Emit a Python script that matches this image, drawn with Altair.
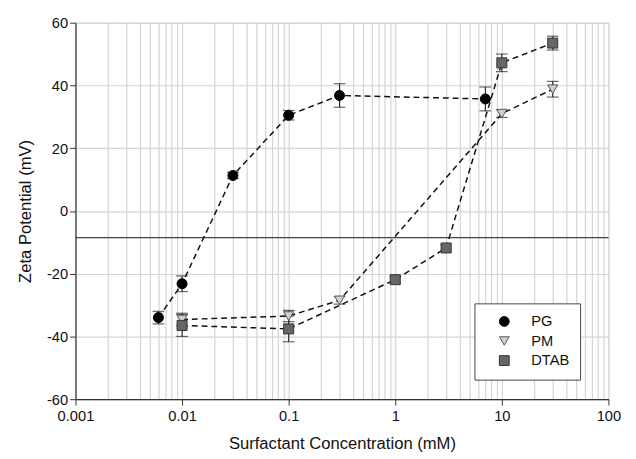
import altair as alt
import pandas as pd

series_names = ["PG", "PM", "DTAB"]

pg_x = [0.006, 0.01, 0.03, 0.1, 0.3, 7]
pg_y = [-34.0, -23.2, 11.3, 30.5, 36.8, 35.7]
pg_e = [2.0, 2.5, 1.0, 1.5, 3.75, 3.8]

pm_x = [0.01, 0.1, 0.3, 10, 30]
pm_y = [-34.6, -33.5, -28.5, 31.0, 38.8]
pm_e = [2.0, 1.8, 1.2, 1.2, 2.5]

dt_x = [0.01, 0.1, 1, 3, 10, 30]
dt_y = [-36.5, -37.6, -21.9, -11.8, 47.2, 53.5]
dt_e = [3.5, 4.1, 1.0, 1.0, 2.8, 2.2]

ref_line_y = -8.5

x_ticks = [m * 10.0 ** e for e in range(-3, 2) for m in range(1, 10)] + [100.0]
y_ticks = [-60, -40, -20, 0, 20, 40, 60]

rows = []
for name, xs, ys, es in [("PG", pg_x, pg_y, pg_e), ("PM", pm_x, pm_y, pm_e), ("DTAB", dt_x, dt_y, dt_e)]:
    for i, (x, y, e) in enumerate(zip(xs, ys, es)):
        rows.append({"series": name, "x": x, "y": y, "lo": y - e, "hi": y + e, "order": i})
df = pd.DataFrame(rows)

decade_test = "abs(log(datum.value)/LN10 - round(log(datum.value)/LN10)) < 0.000001"
FONT = "Liberation Sans"
TXT = "#111111"

xscale = alt.Scale(type="log", domain=[0.001, 100], nice=False)
yscale = alt.Scale(domain=[-60, 60], nice=False)

xenc = alt.X("x:Q", scale=xscale,
             axis=alt.Axis(values=x_ticks, title="Surfactant Concentration (mM)",
                           labelExpr="(" + decade_test + ") ? format(datum.value, '~g') : ''",
                           tickOpacity={"condition": {"test": decade_test, "value": 1}, "value": 0},
                           grid=True, gridColor="#d4d4d4", gridWidth=1.2,
                           domainColor="#333", tickColor="#333", tickSize=6, domainWidth=1.2,
                           labelFontSize=15, titleFontSize=17, labelPadding=4, titlePadding=12,
                           labelColor=TXT, titleColor=TXT, labelFont=FONT,
                           titleFont=FONT, titleFontWeight="normal", labelFlush=False,
                           labelOverlap=False))
yenc = alt.Y("y:Q", scale=yscale,
             axis=alt.Axis(values=y_ticks, title="Zeta Potential (mV)",
                           labelExpr="datum.value < 0 ? '-' + abs(datum.value) : '' + datum.value",
                           grid=True, gridColor="#d4d4d4", gridWidth=1.2,
                           domainColor="#333", tickColor="#333", tickSize=6, domainWidth=1.2,
                           labelFontSize=15, titleFontSize=17, labelPadding=2, titlePadding=12,
                           labelColor=TXT, titleColor=TXT, labelFont=FONT,
                           titleFont=FONT, titleFontWeight="normal", labelFlush=False))

base = alt.Chart(df)

lines = base.mark_line(color="#111", strokeDash=[6, 4], strokeWidth=1.5).encode(
    x=xenc, y=yenc, detail="series:N", order="order:Q")

ebars = base.mark_rule(color="#222", strokeWidth=1.1).encode(x="x:Q", y="lo:Q", y2="hi:Q")
caps_lo = base.mark_tick(color="#222", thickness=1.2, size=12, orient="horizontal").encode(x="x:Q", y="lo:Q")
caps_hi = base.mark_tick(color="#222", thickness=1.2, size=12, orient="horizontal").encode(x="x:Q", y="hi:Q")

legend = alt.Legend(title=None, orient="none", legendX=408, legendY=287,
                    strokeColor="#444", fillColor="#fff", padding=11,
                    labelFontSize=15, labelFont=FONT, labelColor=TXT,
                    symbolSize=100, rowPadding=4, symbolStrokeWidth=1,
                    symbolOffset=12, labelOffset=20)

points = base.mark_point(filled=True, size=105, strokeWidth=1, opacity=1).encode(
    x="x:Q", y="y:Q",
    shape=alt.Shape("series:N", scale=alt.Scale(domain=series_names, range=["circle", "triangle-down", "square"]), legend=legend),
    fill=alt.Fill("series:N", scale=alt.Scale(domain=series_names, range=["#000000", "#cfcfcf", "#666666"]), legend=legend),
    stroke=alt.Stroke("series:N", scale=alt.Scale(domain=series_names, range=["#000000", "#555555", "#333333"]), legend=legend),
)

ref = alt.Chart(pd.DataFrame({"y": [ref_line_y]})).mark_rule(color="#444", strokeWidth=1.2).encode(y="y:Q")

chart = alt.layer(ref, lines, ebars, caps_lo, caps_hi, points).properties(
    width=545, height=385,
    autosize=alt.AutoSizeParams(type="none"),
    padding={"left": 69, "top": 10, "right": 20, "bottom": 50},
).configure_view(stroke="#555", strokeWidth=1.2).configure(background="#fff")

chart.save("out.html", embed_options={"renderer": "svg", "actions": False})
